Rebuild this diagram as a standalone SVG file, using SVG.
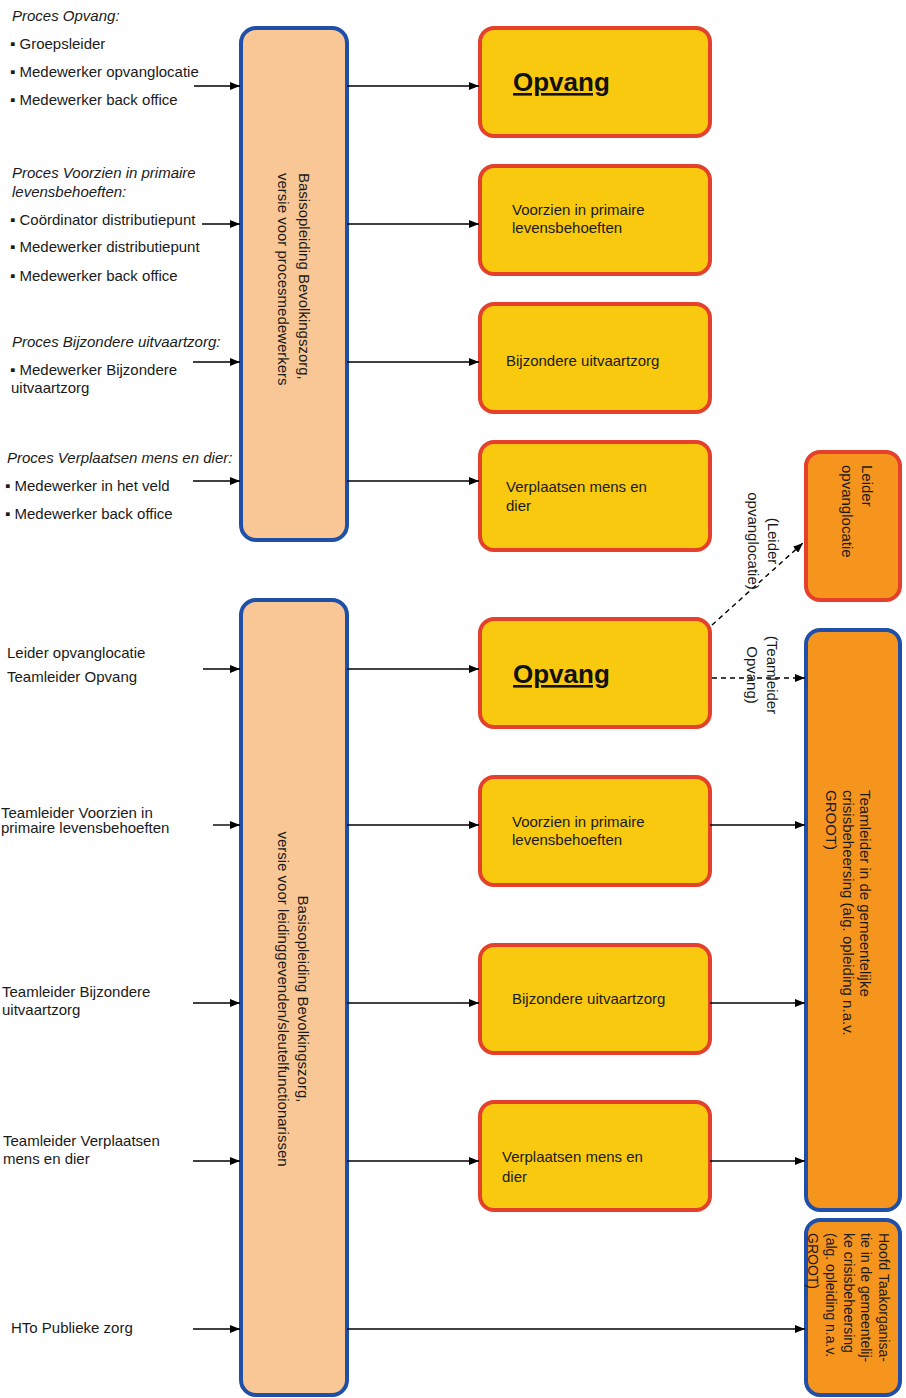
<svg xmlns="http://www.w3.org/2000/svg" width="906" height="1398" viewBox="0 0 906 1398">
<style>
.t{font-family:"Liberation Sans",Arial,sans-serif;font-size:15px;fill:#1a1a1a}
.i{font-style:italic}
.big{fill:#f8c795;stroke:#1f4fa8;stroke-width:4}
.yel{fill:#f8c90f;stroke:#e4402b;stroke-width:4}
.orR{fill:#f6951e;stroke:#e4402b;stroke-width:4}
.orB{fill:#f6951e;stroke:#1f4fa8;stroke-width:4}
.ln{stroke:#000;stroke-width:1.4;fill:none}
.dash{stroke:#000;stroke-width:1.4;fill:none;stroke-dasharray:5,4}
.hd{font-family:"Liberation Sans",Arial,sans-serif;font-size:26px;font-weight:bold;fill:#111;text-decoration:underline}
</style>
<defs>
<marker id="ah" markerUnits="userSpaceOnUse" markerWidth="10" markerHeight="8" refX="10" refY="4" orient="auto">
<path d="M0,0 L10,4 L0,8 z" fill="#000"/>
</marker>
</defs>
<rect width="906" height="1398" fill="#fff"/>

<g id="left-top-texts">
<text class="t i" x="12" y="21">Proces Opvang:</text>
<text class="t" x="10" y="49">▪ Groepsleider</text>
<text class="t" x="10" y="77">▪ Medewerker opvanglocatie</text>
<text class="t" x="10" y="105">▪ Medewerker back office</text>
<text class="t i" x="12" y="178">Proces Voorzien in primaire</text>
<text class="t i" x="12" y="197">levensbehoeften:</text>
<text class="t" x="10" y="225">▪ Coördinator distributiepunt</text>
<text class="t" x="10" y="252">▪ Medewerker distributiepunt</text>
<text class="t" x="10" y="281">▪ Medewerker back office</text>
<text class="t i" x="12" y="347">Proces Bijzondere uitvaartzorg:</text>
<text class="t" x="10" y="375">▪ Medewerker Bijzondere</text>
<text class="t" x="11" y="393">uitvaartzorg</text>
<text class="t i" x="7" y="463">Proces Verplaatsen mens en dier:</text>
<text class="t" x="5" y="491">▪ Medewerker in het veld</text>
<text class="t" x="5" y="519">▪ Medewerker back office</text>
</g>

<g id="left-bottom-texts">
<text class="t" x="7" y="658">Leider opvanglocatie</text>
<text class="t" x="7" y="682">Teamleider Opvang</text>
<text class="t" x="1" y="818">Teamleider Voorzien in</text>
<text class="t" x="1" y="833">primaire levensbehoeften</text>
<text class="t" x="2" y="997">Teamleider Bijzondere</text>
<text class="t" x="2" y="1015">uitvaartzorg</text>
<text class="t" x="3" y="1146">Teamleider Verplaatsen</text>
<text class="t" x="3" y="1164">mens en dier</text>
<text class="t" x="11" y="1333">HTo Publieke zorg</text>
</g>

<g id="basis-proces">
<rect class="big" x="241" y="28" width="106" height="512" rx="15"/>
<text class="t" transform="translate(299,173) rotate(90)">Basisopleiding Bevolkingszorg,</text>
<text class="t" transform="translate(278,173) rotate(90)">versie voor procesmedewerkers</text>
</g>

<g id="basis-leiding">
<rect class="big" x="241" y="600" width="106" height="795" rx="15"/>
<text class="t" text-anchor="middle" transform="translate(298,999) rotate(90)">Basisopleiding Bevolkingszorg,</text>
<text class="t" text-anchor="middle" transform="translate(278,999) rotate(90)">versie voor leidinggevenden/sleutelfunctionarissen</text>
</g>

<g id="opvang-1">
<rect class="yel" x="480" y="28" width="230" height="108" rx="14"/>
<text class="hd" x="513" y="91">Opvang</text>
</g>
<g id="voorzien-1">
<rect class="yel" x="480" y="166" width="230" height="108" rx="14"/>
<text class="t" x="512" y="215">Voorzien in primaire</text>
<text class="t" x="512" y="233">levensbehoeften</text>
</g>
<g id="uitvaart-1">
<rect class="yel" x="480" y="304" width="230" height="108" rx="14"/>
<text class="t" x="506" y="366">Bijzondere uitvaartzorg</text>
</g>
<g id="verplaatsen-1">
<rect class="yel" x="480" y="442" width="230" height="108" rx="14"/>
<text class="t" x="506" y="492">Verplaatsen mens en</text>
<text class="t" x="506" y="511">dier</text>
</g>

<g id="opvang-2">
<rect class="yel" x="480" y="619" width="230" height="108" rx="14"/>
<text class="hd" x="513" y="683">Opvang</text>
</g>
<g id="voorzien-2">
<rect class="yel" x="480" y="777" width="230" height="108" rx="14"/>
<text class="t" x="512" y="827">Voorzien in primaire</text>
<text class="t" x="512" y="845">levensbehoeften</text>
</g>
<g id="uitvaart-2">
<rect class="yel" x="480" y="945" width="230" height="108" rx="14"/>
<text class="t" x="512" y="1004">Bijzondere uitvaartzorg</text>
</g>
<g id="verplaatsen-2">
<rect class="yel" x="480" y="1102" width="230" height="108" rx="14"/>
<text class="t" x="502" y="1162">Verplaatsen mens en</text>
<text class="t" x="502" y="1182">dier</text>
</g>

<g id="leider-opvanglocatie">
<rect class="orR" x="806" y="452" width="94" height="148" rx="14"/>
<text class="t" transform="translate(862,465) rotate(90)">Leider</text>
<text class="t" transform="translate(842,465) rotate(90)">opvanglocatie</text>
</g>

<g id="teamleider-crisis">
<rect class="orB" x="806" y="630" width="94" height="580" rx="14"/>
<text class="t" transform="translate(860,790) rotate(90)">Teamleider in de gemeentelijke</text>
<text class="t" transform="translate(843,790) rotate(90)">crisisbeheersing (alg. opleiding n.a.v.</text>
<text class="t" transform="translate(826,790) rotate(90)">GROOT)</text>
</g>

<g id="hoofd-taakorganisatie">
<rect class="orB" x="806" y="1220" width="94" height="175" rx="14"/>
<text class="t" style="font-size:14px" transform="translate(879,1233) rotate(90)">Hoofd Taakorganisa-</text>
<text class="t" style="font-size:14px" transform="translate(861,1233) rotate(90)">tie in de gemeentelij-</text>
<text class="t" style="font-size:14px" transform="translate(844,1233) rotate(90)">ke crisisbeheersing</text>
<text class="t" style="font-size:14px" transform="translate(826,1233) rotate(90)">(alg. opleiding n.a.v.</text>
<text class="t" style="font-size:14px" transform="translate(808,1233) rotate(90)">GROOT)</text>
</g>

<g id="connectors">
<line class="ln" x1="194" y1="86" x2="240" y2="86" marker-end="url(#ah)"/>
<line class="ln" x1="202" y1="224" x2="240" y2="224" marker-end="url(#ah)"/>
<line class="ln" x1="193" y1="362" x2="240" y2="362" marker-end="url(#ah)"/>
<line class="ln" x1="193" y1="481" x2="240" y2="481" marker-end="url(#ah)"/>
<line class="ln" x1="347" y1="86" x2="479" y2="86" marker-end="url(#ah)"/>
<line class="ln" x1="347" y1="224" x2="479" y2="224" marker-end="url(#ah)"/>
<line class="ln" x1="347" y1="362" x2="479" y2="362" marker-end="url(#ah)"/>
<line class="ln" x1="347" y1="481" x2="479" y2="481" marker-end="url(#ah)"/>

<line class="ln" x1="203" y1="669" x2="240" y2="669" marker-end="url(#ah)"/>
<line class="ln" x1="213" y1="825" x2="240" y2="825" marker-end="url(#ah)"/>
<line class="ln" x1="193" y1="1003" x2="240" y2="1003" marker-end="url(#ah)"/>
<line class="ln" x1="193" y1="1161" x2="240" y2="1161" marker-end="url(#ah)"/>
<line class="ln" x1="193" y1="1329" x2="240" y2="1329" marker-end="url(#ah)"/>
<line class="ln" x1="347" y1="669" x2="479" y2="669" marker-end="url(#ah)"/>
<line class="ln" x1="347" y1="825" x2="479" y2="825" marker-end="url(#ah)"/>
<line class="ln" x1="347" y1="1003" x2="479" y2="1003" marker-end="url(#ah)"/>
<line class="ln" x1="347" y1="1161" x2="479" y2="1161" marker-end="url(#ah)"/>
<line class="ln" x1="347" y1="1329" x2="805" y2="1329" marker-end="url(#ah)"/>

<line class="ln" x1="710" y1="825" x2="805" y2="825" marker-end="url(#ah)"/>
<line class="ln" x1="710" y1="1003" x2="805" y2="1003" marker-end="url(#ah)"/>
<line class="ln" x1="710" y1="1161" x2="805" y2="1161" marker-end="url(#ah)"/>

<line class="dash" x1="712" y1="678" x2="805" y2="678" marker-end="url(#ah)"/>
<line class="dash" x1="712" y1="625" x2="803" y2="543" marker-end="url(#ah)"/>
<text class="t" text-anchor="middle" transform="translate(768,541) rotate(90)">(Leider</text>
<text class="t" text-anchor="middle" transform="translate(748,541) rotate(90)">opvanglocatie)</text>
<text class="t" text-anchor="middle" transform="translate(767,675) rotate(90)">(Teamleider</text>
<text class="t" text-anchor="middle" transform="translate(747,675) rotate(90)">Opvang)</text>
</g>
</svg>
